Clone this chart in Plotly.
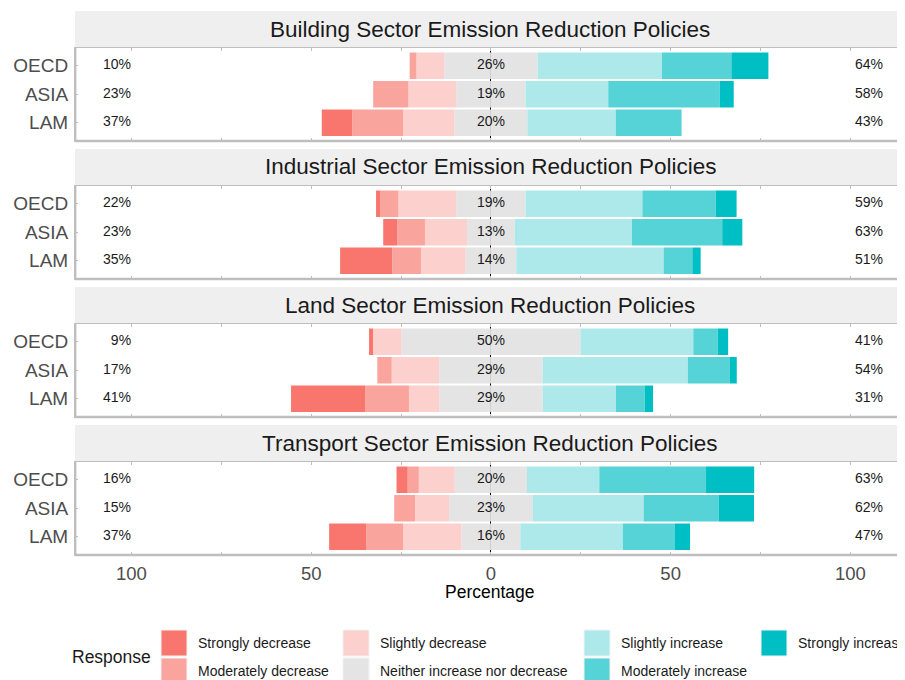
import plotly.graph_objects as go

# ---------------- data ----------------
responses = ["Strongly decrease", "Moderately decrease", "Slightly decrease",
             "Neither increase nor decrease", "Slightly increase",
             "Moderately increase", "Strongly increase"]
colors = ["#F8766D", "#F9A59E", "#FCD0CD", "#E4E4E4", "#ADE8EA", "#55D3D6", "#00BFC4"]
regions = ["OECD", "ASIA", "LAM"]
sectors = ["Building Sector Emission Reduction Policies",
           "Industrial Sector Emission Reduction Policies",
           "Land Sector Emission Reduction Policies",
           "Transport Sector Emission Reduction Policies"]

# percentages per region, in response order
building_oecd = [0.0, 1.9, 7.7, 26.0, 34.6, 19.3, 10.3]
building_asia = [0.0, 9.8, 13.3, 19.3, 23.0, 31.0, 3.9]
building_lam = [8.5, 14.1, 14.3, 20.3, 24.6, 18.3, 0.0]

industrial_oecd = [1.1, 5.1, 16.1, 19.3, 32.5, 20.4, 5.8]
industrial_asia = [3.9, 7.7, 11.7, 13.3, 32.6, 25.1, 5.6]
industrial_lam = [14.5, 8.0, 12.4, 14.1, 41.0, 8.0, 2.3]

land_oecd = [1.1, 0.0, 7.9, 49.8, 31.4, 6.8, 2.9]
land_asia = [0.0, 4.0, 13.2, 28.8, 40.4, 11.7, 1.9]
land_lam = [20.6, 12.2, 8.4, 28.8, 20.4, 8.0, 2.3]

transport_oecd = [3.1, 3.1, 10.0, 20.1, 20.1, 29.7, 13.4]
transport_asia = [0.0, 5.8, 9.5, 23.2, 30.9, 20.9, 9.8]
transport_lam = [10.3, 10.3, 16.2, 16.4, 28.5, 14.5, 4.2]

sector_data = [
    [building_oecd, building_asia, building_lam],
    [industrial_oecd, industrial_asia, industrial_lam],
    [land_oecd, land_asia, land_lam],
    [transport_oecd, transport_asia, transport_lam],
]

tick_vals = [-100, -75, -50, -25, 0, 25, 50, 75, 100]
tick_text = ["100", "", "50", "", "0", "", "50", "", "100"]

# ---------------- layout geometry (window pixels) ----------------
OFF = 8                      # page body margin
W, H = 905 - OFF, 680 - OFF  # figure size so that it fills the window
FONT = "Liberation Sans, Arial, sans-serif"
panel_tops = [48, 186, 324, 462]
panel_h = 92.5
strip_h = 36
left_px = 75                 # window x of the panel's left edge
ml = left_px - OFF


def py(p):
    return 1 - (p - OFF) / H


def px(p):
    return (p - left_px) / (W - ml)


fig = go.Figure()
shapes = []
annotations = []

# trace order for relative stacking: closest to zero first
order = [(3, "neg"), (3, "pos"), (2, "neg"), (4, "pos"),
         (1, "neg"), (5, "pos"), (0, "neg"), (6, "pos")]

layout_axes = {}
for si, rows in enumerate(sector_data):
    n = si + 1
    xa = "x" if n == 1 else f"x{n}"
    ya = "y" if n == 1 else f"y{n}"
    for ri, kind in order:
        vals = []
        for r in rows:
            v = r[ri]
            if ri == 3:
                v = v / 2.0
            vals.append(-v if kind == "neg" else v)
        fig.add_trace(go.Bar(
            x=vals, y=regions, orientation="h", xaxis=xa, yaxis=ya,
            marker=dict(color=colors[ri], line=dict(width=0)),
            name=responses[ri], showlegend=False, hoverinfo="skip"))
    low = [f"{int(sum(r[0:3]) + 0.5)}%" for r in rows]
    neu = [f"{int(r[3] + 0.5)}%" for r in rows]
    high = [f"{int(sum(r[4:7]) + 0.5)}%" for r in rows]
    tf = dict(family=FONT, size=14, color="#1A1A1A")
    fig.add_trace(go.Scatter(x=[-100.1] * 3, y=regions, mode="text", text=low,
                             textposition="middle left", textfont=tf,
                             xaxis=xa, yaxis=ya, showlegend=False, hoverinfo="skip"))
    fig.add_trace(go.Scatter(x=[0] * 3, y=regions, mode="text", text=neu,
                             textposition="middle center", textfont=tf,
                             xaxis=xa, yaxis=ya, showlegend=False, hoverinfo="skip"))
    fig.add_trace(go.Scatter(x=[101.3] * 3, y=regions, mode="text", text=high,
                             textposition="middle right", textfont=tf,
                             xaxis=xa, yaxis=ya, showlegend=False, hoverinfo="skip"))

    top = panel_tops[si]
    bot = top + panel_h
    layout_axes["xaxis" if n == 1 else f"xaxis{n}"] = dict(
        domain=[0, 1], range=[-115.7, 115.2], anchor=ya,
        showgrid=False, zeroline=True, zerolinecolor="#000000", zerolinewidth=1.3,
        showline=True, linecolor="#BEBEBE", linewidth=1, mirror="ticks",
        ticks="inside", ticklen=3, tickcolor="#BEBEBE", tickwidth=1,
        tickvals=tick_vals, ticktext=tick_text,
        showticklabels=(n == 4), ticklabelstandoff=2,
        tickfont=dict(family=FONT, size=18.5, color="#4D4D4D"),
        fixedrange=True)
    layout_axes["yaxis" if n == 1 else f"yaxis{n}"] = dict(
        domain=[py(bot), py(top)], anchor=xa, type="category",
        categoryorder="array", categoryarray=["LAM", "ASIA", "OECD"],
        range=[-0.62, 2.62], showgrid=False, zeroline=False,
        showline=True, linecolor="#BEBEBE", linewidth=1, mirror=True,
        ticks="inside", ticklen=3, tickcolor="#BEBEBE",
        tickfont=dict(family=FONT, size=19, color="#4D4D4D"),
        ticklabelstandoff=2, fixedrange=True)

    # thicker bottom & left border
    shapes.append(dict(type="line", xref="paper", yref="paper",
                       x0=0, x1=1, y0=py(bot + 0.5), y1=py(bot + 0.5),
                       line=dict(color="#BEBEBE", width=2.6)))
    shapes.append(dict(type="line", xref="paper", yref="paper",
                       x0=px(left_px + 0.5), x1=px(left_px + 0.5), y0=py(bot), y1=py(top),
                       line=dict(color="#BEBEBE", width=1.8)))
    # strip
    shapes.append(dict(type="rect", xref="paper", yref="paper",
                       x0=0, x1=1, y0=py(top - 1), y1=py(top - 1 - strip_h),
                       fillcolor="#EFEFEF", line=dict(width=0), layer="below"))
    annotations.append(dict(text=sectors[si], xref="paper", yref="paper",
                            x=px(490), y=py(top - 1 - strip_h / 2),
                            xanchor="center", yanchor="middle", showarrow=False,
                            font=dict(family=FONT, size=22.5, color="#1A1A1A")))

# axis title
annotations.append(dict(text="Percentage", xref="paper", yref="paper",
                        x=px(490), y=py(592), xanchor="center", yanchor="middle",
                        showarrow=False, font=dict(family=FONT, size=17.5, color="#000000")))

# legend (drawn manually, ggplot style: column-major, 2 rows)
annotations.append(dict(text="Response", xref="paper", yref="paper",
                        x=px(70), y=py(657), xanchor="left", yanchor="middle",
                        showarrow=False, font=dict(family=FONT, size=17.5, color="#1A1A1A")))
key_x = [161, 343, 584, 761]
text_x = [196, 378, 619, 796]
key_top = [630, 658]
for i, (lab, col) in enumerate(zip(responses, colors)):
    c, r = i // 2, i % 2
    shapes.append(dict(type="rect", xref="paper", yref="paper",
                       x0=px(key_x[c]), x1=px(key_x[c] + 26),
                       y0=py(key_top[r]), y1=py(key_top[r] + 26),
                       fillcolor=col, line=dict(color="#F2F2F2", width=1)))
    annotations.append(dict(text=lab, xref="paper", yref="paper",
                            x=px(text_x[c]), y=py(key_top[r] + 13),
                            xanchor="left", yanchor="middle", showarrow=False,
                            font=dict(family=FONT, size=14, color="#1A1A1A")))

fig.update_layout(
    width=W, height=H,
    margin=dict(l=ml, r=0, t=0, b=0),
    paper_bgcolor="white", plot_bgcolor="white",
    barmode="relative", bargap=0.07,
    shapes=shapes, annotations=annotations,
    showlegend=False,
    font=dict(family=FONT),
    **layout_axes)

fig.write_html("out.html")
